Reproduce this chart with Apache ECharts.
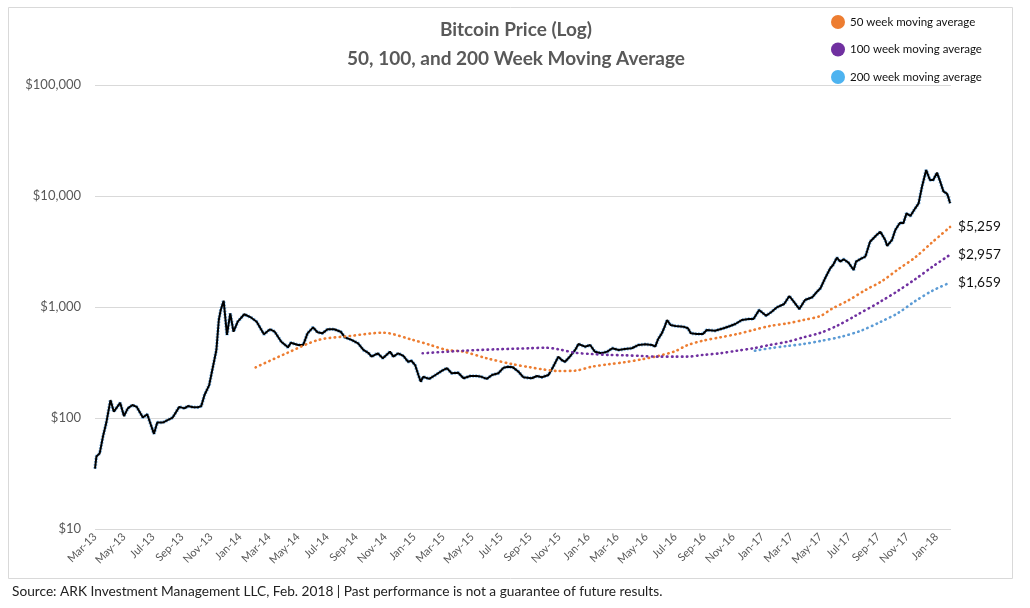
<!DOCTYPE html>
<html><head><meta charset="utf-8">
<script src="https://cdn.jsdelivr.net/npm/echarts@6/dist/echarts.min.js"></script>
<style>html,body{margin:0;padding:0;background:#fff}#c{width:1030px;height:608px}</style>
</head><body><div id="c"></div>
<script>
const tickLabels = ['Mar-13','May-13','Jul-13','Sep-13','Nov-13','Jan-14','Mar-14','May-14','Jul-14','Sep-14','Nov-14','Jan-15','Mar-15','May-15','Jul-15','Sep-15','Nov-15','Jan-16','Mar-16','May-16','Jul-16','Sep-16','Nov-16','Jan-17','Mar-17','May-17','Jul-17','Sep-17','Nov-17','Jan-18'];
const yTicks = [10, 100, 1000, 10000, 100000];

const priceDates = [
'2013-03-01','2013-03-04','2013-03-11','2013-03-18','2013-03-25','2013-04-03','2013-04-10','2013-04-23','2013-05-01','2013-05-09','2013-05-19','2013-05-28','2013-06-10','2013-06-19','2013-07-03','2013-07-10','2013-07-22','2013-08-02','2013-08-12','2013-08-26','2013-09-06','2013-09-13','2013-09-24','2013-10-04','2013-10-11','2013-10-18','2013-10-28','2013-11-07','2013-11-12','2013-11-17','2013-11-21','2013-11-27','2013-12-04','2013-12-11','2013-12-18','2013-12-27',
'2014-01-10','2014-01-25','2014-02-05','2014-02-19','2014-03-03','2014-03-13','2014-03-27','2014-04-10','2014-04-16','2014-05-01','2014-05-12','2014-05-21','2014-06-02','2014-06-11','2014-06-21','2014-07-02','2014-07-16','2014-07-30','2014-08-08','2014-08-22','2014-09-05','2014-09-16','2014-09-26','2014-10-03','2014-10-16','2014-10-27','2014-11-11','2014-11-18','2014-11-28','2014-12-09','2014-12-19','2014-12-26',
'2015-01-03','2015-01-10','2015-01-15','2015-01-20','2015-02-02','2015-02-14','2015-02-27','2015-03-09','2015-03-19','2015-04-02','2015-04-13','2015-04-27','2015-05-11','2015-05-21','2015-06-01','2015-06-12','2015-06-25','2015-07-06','2015-07-16','2015-07-26','2015-08-07','2015-08-17','2015-09-04','2015-09-15','2015-09-25','2015-10-09','2015-10-19','2015-10-30','2015-11-06','2015-11-13','2015-11-24','2015-12-04','2015-12-11','2015-12-25',
'2016-01-05','2016-01-15','2016-01-29','2016-02-10','2016-02-20','2016-03-04','2016-03-17','2016-04-01','2016-04-15','2016-04-29','2016-05-13','2016-05-20','2016-05-26','2016-06-03','2016-06-09','2016-06-14','2016-06-21','2016-07-01','2016-07-18','2016-07-28','2016-08-03','2016-08-16','2016-08-29','2016-09-06','2016-09-23','2016-10-11','2016-10-25','2016-11-05','2016-11-19','2016-12-03','2016-12-13','2016-12-25',
'2017-01-09','2017-01-21','2017-02-01','2017-02-15','2017-02-25','2017-03-06','2017-03-18','2017-03-30','2017-04-14','2017-04-24','2017-05-01','2017-05-11','2017-05-22','2017-05-28','2017-06-05','2017-06-12','2017-06-19','2017-06-29','2017-07-10','2017-07-15','2017-07-27','2017-08-04','2017-08-14','2017-08-28','2017-09-05','2017-09-15','2017-09-19','2017-09-29','2017-10-06','2017-10-16','2017-10-23','2017-10-30','2017-11-07','2017-11-17','2017-11-24','2017-12-01','2017-12-10','2017-12-18','2017-12-25',
'2018-01-02','2018-01-09','2018-01-16','2018-01-23','2018-01-26','2018-01-30'];
const priceValues = [
35,45,48,68,90,145,114,137,104,122,131,126,101,108,72,91,91,96,101,126,122,128,125,125,128,161,198,321,410,764,940,1140,560,877,599,737,
860,801,737,568,630,599,487,433,477,455,455,579,656,592,579,630,630,599,533,505,471,410,387,357,383,345,396,357,383,362,321,328,
300,244,212,235,225,244,267,281,253,256,228,239,239,235,225,244,253,284,290,286,261,233,228,239,233,244,290,357,333,321,362,410,464,439,
455,396,383,396,425,410,418,425,455,461,455,439,512,579,665,764,688,674,665,643,579,571,571,621,612,643,674,703,764,780,780,940,
835,907,994,1064,1256,1116,959,1157,1223,1374,1473,1814,2233,2389,2782,2560,2690,2508,2153,2560,2746,2840,3875,4452,4766,4015,3548,4015,4945,5747,5672,6982,6607,7745,8590,12130,17150,13930,13930,
16220,13450,10940,10570,9860,8590];

const ma50Dates = ['2014-02-03','2014-04-08','2014-06-13','2014-08-19','2014-10-27','2014-12-29','2015-02-04','2015-03-09','2015-04-13','2015-06-01','2015-07-26','2015-09-01','2015-09-25','2015-10-30','2015-12-04','2016-01-09','2016-02-13','2016-03-17','2016-04-22','2016-05-26','2016-07-01','2016-07-25','2016-08-29','2016-10-04','2016-11-09','2016-12-13','2017-01-17','2017-02-22','2017-03-27','2017-05-01','2017-05-25','2017-06-29','2017-08-04','2017-09-09','2017-10-13','2017-11-17','2017-12-22','2018-01-30'];
const ma50Values = [286,385,505,548,587,505,455,410,396,345,305,286,275,265,267,290,305,318,338,362,400,450,497,533,571,621,674,713,764,830,960,1150,1420,1720,2200,2800,3800,5259];

const ma100Dates = ['2015-01-19','2015-04-13','2015-06-22','2015-09-01','2015-10-02','2015-10-30','2015-12-04','2016-01-09','2016-02-13','2016-03-17','2016-04-22','2016-05-26','2016-07-01','2016-07-25','2016-08-29','2016-10-04','2016-11-09','2016-12-13','2017-01-17','2017-02-22','2017-03-27','2017-05-01','2017-06-06','2017-07-13','2017-09-07','2017-10-12','2017-11-17','2017-12-23','2018-01-30'];
const ma100Values = [383,404,416,425,430,416,387,377,370,367,362,357,357,357,370,383,404,425,455,487,533,585,680,830,1130,1400,1780,2300,2957];

const ma200Dates = ['2016-12-16','2017-01-17','2017-02-22','2017-03-27','2017-05-01','2017-06-12','2017-07-24','2017-09-05','2017-10-12','2017-11-17','2017-12-23','2018-01-30'];
const ma200Values = [404,425,446,464,494,537,608,733,883,1130,1400,1659];

function toMonths(s){
  const [y,mo,d] = s.split('-').map(Number);
  const dim = new Date(y, mo, 0).getDate();
  return (y-2013)*12 + (mo-3) + (d-1)/dim;
}
function pairs(dates, vals){ return dates.map((d,i)=>[toMonths(d), vals[i]]); }
function money(v){ return '$' + Math.round(v).toLocaleString('en-US'); }

const FONT = 'Lato, "Open Sans", sans-serif';
const chart = echarts.init(document.getElementById('c'), null, {renderer:'canvas'});
const dot = [0.5, 4.5];
const endLbl = {show: true, formatter: p => money(p.value[1]), color: '#111', fontSize: 13.7, distance: 8, fontFamily: FONT};
chart.setOption({
  animation: false,
  backgroundColor: '#fff',
  textStyle: {fontFamily: FONT},
  title: {
    text: 'Bitcoin Price (Log)\n50, 100, and 200 Week Moving Average',
    left: 511, top: 10, textAlign: 'center',
    textStyle: {fontSize: 19, fontWeight: 'bold', color: '#595959', lineHeight: 29, fontFamily: FONT}
  },
  legend: {
    data: ['50 week moving average','100 week moving average','200 week moving average'],
    orient: 'vertical', left: 826, top: 10, itemWidth: 14, itemHeight: 14, itemGap: 13.5,
    icon: 'circle',
    textStyle: {fontSize: 11.5, color: '#111', fontFamily: FONT}
  },
  grid: {left: 95, right: 79, top: 85, bottom: 79},
  xAxis: {
    type: 'value', min: 0, max: 59, interval: 2,
    axisLine: {show: false}, axisTick: {show: false}, splitLine: {show: false},
    axisLabel: {
      rotate: 45, fontSize: 11, color: '#595959', margin: 6, fontFamily: FONT,
      showMaxLabel: false,
      formatter: v => (v % 2 === 0 && tickLabels[v/2]) ? tickLabels[v/2] : ''
    }
  },
  yAxis: {
    type: 'log', logBase: 10, min: yTicks[0], max: yTicks[yTicks.length-1],
    axisLine: {show: false}, axisTick: {show: false},
    splitLine: {lineStyle: {color: '#d9d9d9', width: 1}},
    axisLabel: {fontSize: 13, color: '#595959', margin: 14, fontFamily: FONT, formatter: v => money(v)}
  },
  graphic: [
    {type: 'rect', shape: {x: 8.5, y: 7.5, width: 1004, height: 571}, style: {fill: 'none', stroke: '#d9d9d9', lineWidth: 1}, silent: true, z: -10},
    {type: 'text', left: 12, top: 585, style: {text: 'Source: ARK Investment Management LLC, Feb. 2018 | Past performance is not a guarantee of future results.', fontSize: 13.7, fill: '#222', fontFamily: FONT}}
  ],
  series: [
    {name: 'price overlay', type: 'line', data: pairs(priceDates, priceValues), showSymbol: false, z: 2,
     lineStyle: {color: '#7db5e6', width: 3.6, type: [1.5, 1.5]}, itemStyle: {color: '#7db5e6'}},
    {name: 'Bitcoin price', type: 'line', data: pairs(priceDates, priceValues), showSymbol: false, z: 3,
     lineStyle: {color: '#000', width: 2}, itemStyle: {color: '#000'}},
    {name: '50 week moving average', type: 'line', data: pairs(ma50Dates, ma50Values), showSymbol: false, smooth: 0.3, z: 4,
     itemStyle: {color: '#ED7D31'}, lineStyle: {color: '#ED7D31', width: 2.6, type: dot, cap: 'round'}, endLabel: endLbl},
    {name: '100 week moving average', type: 'line', data: pairs(ma100Dates, ma100Values), showSymbol: false, smooth: 0.3, z: 4,
     itemStyle: {color: '#7030A0'}, lineStyle: {color: '#7030A0', width: 2.6, type: dot, cap: 'round'}, endLabel: endLbl},
    {name: '200 week moving average', type: 'line', data: pairs(ma200Dates, ma200Values), showSymbol: false, smooth: 0.3, z: 4,
     itemStyle: {color: '#4DB3F0'}, lineStyle: {color: '#5B9BD5', width: 2.6, type: dot, cap: 'round'}, endLabel: endLbl}
  ]
});
</script>
</body></html>
